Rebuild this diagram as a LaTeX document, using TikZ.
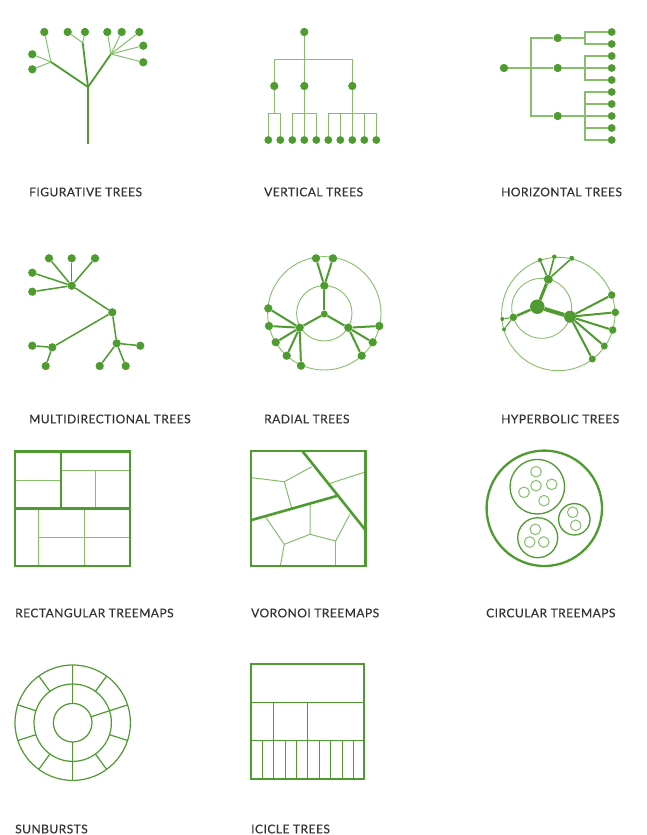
\documentclass[tikz,border=0pt]{standalone}
\usepackage{fontspec}
\usepackage{tikz}
\usetikzlibrary{calc}
\newfontfamily\tvFont[LetterSpace=4, FakeBold=0.4]{Lato}
\definecolor{tvGreen}{HTML}{4E9B30}
\definecolor{tvLight}{HTML}{86BF6C}
\definecolor{tvText}{HTML}{333333}
\tikzset{
    tvDot/.style={circle, fill=tvGreen, draw=none, inner sep=0pt, minimum size=#1},
    tvDot/.default=8.3pt,
    tvEdge/.style={draw=tvGreen, line width=1.5pt},
    tvTwig/.style={draw=tvLight, line width=1pt},
    tvRing/.style={draw=tvLight, line width=0.9pt},
    tvFrame/.style={draw=tvGreen, line width=2.6pt},
    tvCell/.style={draw=tvLight, line width=1pt},
    tvLabel/.style={anchor=west, inner sep=0pt, text=tvText, font=\tvFont\fontsize{12}{13}\selectfont}
}
\begin{document}
\begin{tikzpicture}[x=1pt, y=-1pt]
\useasboundingbox[fill=white] (0,0) rectangle (647,835);

% figurative tree
\coordinate (fRoot) at (88,144);
\coordinate (fFork) at (88,87);
\coordinate (fL) at (51,62);
\coordinate (fM) at (82.7,42.7);
\coordinate (fR) at (111,54);
\node[tvDot] (fa) at (44.3,32) {};
\node[tvDot] (fb) at (67.7,32) {};
\node[tvDot] (fc) at (85,32) {};
\node[tvDot] (fd) at (107.3,32) {};
\node[tvDot] (fe) at (121.7,32) {};
\node[tvDot] (ff) at (139.3,32) {};
\node[tvDot] (fg) at (32.3,54.3) {};
\node[tvDot] (fh) at (32.3,69.3) {};
\node[tvDot] (fi) at (143.3,45.7) {};
\node[tvDot] (fj) at (143.3,62.3) {};
\draw[tvEdge, line width=2.6pt] (fRoot) -- (fFork);
\draw[tvEdge, line width=1.8pt] (fL) -- (fFork) -- (fR);
\draw[tvEdge, line width=1.8pt] (fFork) -- (fM);
\foreach \leaf in {fa,fg,fh} \draw[tvTwig] (fL) -- (\leaf);
\foreach \leaf in {fb,fc} \draw[tvTwig] (fM) -- (\leaf);
\foreach \leaf in {fd,fe,ff,fi,fj} \draw[tvTwig] (fR) -- (\leaf);
\node[tvLabel] (fLab) at (29,192) {FIGURATIVE TREES};

% vertical tree
\node[tvDot] (vRoot) at (304.3,32) {};
\node[tvDot] (vA) at (274.3,86) {};
\node[tvDot] (vB) at (304.3,86) {};
\node[tvDot] (vC) at (352.3,86) {};
\foreach \i in {1,...,10} \node[tvDot=7.8pt] (vL\i) at ({256.3+12*\i},140) {};
\coordinate (vBar) at (304.3,59.3);
\coordinate (vAb) at (274.3,113.3);
\coordinate (vBb) at (304.3,113.3);
\coordinate (vCb) at (352.3,113.3);
\draw[tvTwig, line width=1.3pt] (vRoot) -- (vB);
\draw[tvTwig, line width=1.3pt] (vA) |- (vBar) -| (vC);
\draw[tvTwig, line width=1.3pt] (vA) -- (vAb);
\draw[tvTwig, line width=1.3pt] (vL1) |- (vAb) -| (vL2);
\draw[tvTwig, line width=1.3pt] (vL3) |- (vBb) -| (vL5);
\draw[tvTwig, line width=1.3pt] (vB) -- (vL4);
\draw[tvTwig, line width=1.3pt] (vL6) |- (vCb) -| (vL10);
\draw[tvTwig, line width=1.3pt] (vC) -- (vL8);
\foreach \i in {7,9} \draw[tvTwig, line width=1.3pt] (vL\i) -- (vL\i |- vCb);
\node[tvLabel] (vLab) at (264,192) {VERTICAL TREES};

% horizontal tree
\node[tvDot] (hRoot) at (504,68) {};
\node[tvDot] (hA) at (557.7,38) {};
\node[tvDot] (hB) at (557.7,68) {};
\node[tvDot] (hC) at (557.7,116) {};
\foreach \i in {1,...,10} \node[tvDot=7.8pt] (hL\i) at (611.7,{20+12*\i}) {};
\coordinate (hBar) at (531,68);
\coordinate (hAb) at (585,38);
\coordinate (hBb) at (585,68);
\coordinate (hCb) at (585,116);
\draw[tvTwig, line width=1.3pt] (hRoot) -- (hB);
\draw[tvTwig, line width=1.3pt] (hA) -| (hBar) |- (hC);
\draw[tvTwig, line width=1.3pt] (hA) -- (hAb);
\draw[tvTwig, line width=1.3pt] (hL1) -| (hAb) |- (hL2);
\draw[tvTwig, line width=1.3pt] (hL3) -| (hBb) |- (hL5);
\draw[tvTwig, line width=1.3pt] (hB) -- (hL4);
\draw[tvTwig, line width=1.3pt] (hL6) -| (hCb) |- (hL10);
\draw[tvTwig, line width=1.3pt] (hC) -- (hL8);
\foreach \i in {7,9} \draw[tvTwig, line width=1.3pt] (hL\i) -- (hL\i -| hCb);
\node[tvLabel] (hLab) at (501,192) {HORIZONTAL TREES};

% multidirectional tree
\node[tvDot] (mA) at (71.7,285.7) {};
\node[tvDot] (mB) at (112.3,312.3) {};
\node[tvDot] (mC) at (52.3,347.3) {};
\node[tvDot] (mD) at (116.7,343.3) {};
\node[tvDot] (m1) at (49,258.3) {};
\node[tvDot] (m2) at (71.7,258.3) {};
\node[tvDot] (m3) at (95,258.3) {};
\node[tvDot] (m4) at (32.3,272.7) {};
\node[tvDot] (m5) at (32.3,291.7) {};
\node[tvDot] (m6) at (32.3,345.7) {};
\node[tvDot] (m7) at (45.7,366) {};
\node[tvDot] (m8) at (140.3,345.7) {};
\node[tvDot] (m9) at (99.7,366) {};
\node[tvDot] (m10) at (125.7,366) {};
\foreach \leaf in {m1,m2,m3,m4,m5,mB} \draw[tvEdge] (mA) -- (\leaf);
\foreach \leaf in {mC,mD} \draw[tvEdge] (mB) -- (\leaf);
\foreach \leaf in {m6,m7} \draw[tvEdge] (mC) -- (\leaf);
\foreach \leaf in {m8,m9,m10} \draw[tvEdge] (mD) -- (\leaf);
\node[tvLabel] (mLab) at (29,419) {MULTIDIRECTIONAL TREES};

% radial tree
\coordinate (rO) at (324.3,313.3);
\draw[tvRing] (rO) circle (56.7);
\draw[tvRing] (rO) circle (27.7);
\node[tvDot=7pt] (rHub) at (324.3,314) {};
\node[tvDot] (rT) at (324.3,285.7) {};
\node[tvDot] (rL) at (299.7,327.7) {};
\node[tvDot] (rR) at (348.3,327.7) {};
\node[tvDot] (r1) at (316,258.3) {};
\node[tvDot] (r2) at (333,258.3) {};
\node[tvDot] (r3) at (268.3,308.3) {};
\node[tvDot] (r4) at (269,326) {};
\node[tvDot] (r5) at (275.7,342.3) {};
\node[tvDot] (r6) at (286.7,355.7) {};
\node[tvDot] (r7) at (301,365.7) {};
\node[tvDot] (r8) at (379.3,326) {};
\node[tvDot] (r9) at (372.7,342.3) {};
\node[tvDot] (r10) at (361.7,355.7) {};
\foreach \leaf in {rT,rL,rR} \draw[tvEdge, line width=2pt] (rHub) -- (\leaf);
\foreach \leaf in {r1,r2} \draw[tvEdge, line width=2pt] (rT) -- (\leaf);
\foreach \leaf in {r3,r4,r5,r6,r7} \draw[tvEdge, line width=2pt] (rL) -- (\leaf);
\foreach \leaf in {r8,r9,r10} \draw[tvEdge, line width=2pt] (rR) -- (\leaf);
\node[tvLabel] (rLab) at (264,419) {RADIAL TREES};

% hyperbolic tree
\draw[tvRing] (558.3,314) circle (56.7);
\draw[tvRing] (541.7,308.3) circle (30);
\node[tvDot=14.5pt] (yHub) at (537.3,306.7) {};
\node[tvDot=12pt] (yR) at (570,316.7) {};
\node[tvDot=9pt] (yT) at (548.3,279.3) {};
\node[tvDot=7.5pt] (yL) at (513.3,317.3) {};
\node[tvDot=4pt] (y1) at (502.3,319) {};
\node[tvDot=4pt] (y2) at (504,329.3) {};
\node[tvDot=4.5pt] (y3) at (540,260) {};
\node[tvDot=4.5pt] (y4) at (554.3,256.7) {};
\node[tvDot=5pt] (y5) at (571.7,258.3) {};
\node[tvDot=7.5pt] (y6) at (611.7,295) {};
\node[tvDot=7.5pt] (y7) at (615.3,312.3) {};
\node[tvDot=7.5pt] (y8) at (612.7,330) {};
\node[tvDot=7pt] (y9) at (604.3,346) {};
\node[tvDot=7pt] (y10) at (592.3,359) {};
\draw[tvEdge, line width=4pt] (yHub) -- (yR);
\draw[tvEdge, line width=3pt] (yHub) -- (yT);
\draw[tvEdge, line width=2.5pt] (yHub) -- (yL);
\foreach \leaf in {y1,y2} \draw[tvEdge, line width=1pt] (yL) -- (\leaf);
\foreach \leaf in {y3,y4,y5} \draw[tvEdge, line width=1.6pt] (yT) -- (\leaf);
\foreach \leaf in {y6,y7,y8,y9,y10} \draw[tvEdge, line width=2pt] (yR) -- (\leaf);
\node[tvLabel] (yLab) at (501,419) {HYPERBOLIC TREES};

% rectangular treemap
\draw[tvCell] (15,480) -- (61,480);
\draw[tvCell] (61,470) -- (130,470);
\draw[tvCell] (95.7,470) -- (95.7,508.3);
\draw[tvCell] (38.3,508.3) -- (38.3,566);
\draw[tvCell] (84,508.3) -- (84,566);
\draw[tvCell] (38.3,537.3) -- (130,537.3);
\draw[tvFrame] (61,451.7) -- (61,508.3);
\draw[tvFrame] (15,508.3) -- (130,508.3);
\draw[tvFrame] (15,451.7) rectangle (130,566);
\node[tvLabel] (tLab) at (15,613) {RECTANGULAR TREEMAPS};

% voronoi treemap
\draw[tvCell] (251.7,477.7) -- (284.3,481.7) -- (311.7,466.7);
\draw[tvCell] (284.3,481.7) -- (291.7,508.3);
\draw[tvCell] (330,483.3) -- (364.3,472.3);
\draw[tvCell] (265.7,517.3) -- (284.3,544.3) -- (280.3,566);
\draw[tvCell] (284.3,544.3) -- (310,534.3) -- (310,504);
\draw[tvCell] (310,534.3) -- (335.7,541) -- (350,514);
\draw[tvCell] (335.7,541) -- (335.7,566);
\draw[tvFrame] (302.3,451) -- (365,529.5);
\draw[tvFrame] (251.7,520) -- (336.7,496);
\draw[tvFrame] (251,451) rectangle (365.7,566);
\node[tvLabel] (oLab) at (251,613) {VORONOI TREEMAPS};

% circular treemap
\draw[tvFrame, line width=2.3pt] (544.3,508.3) circle (57.7);
\draw[tvEdge, line width=1.3pt] (537.3,486.7) circle (27.3);
\draw[tvEdge, line width=1.3pt] (574.3,519.3) circle (15.7);
\draw[tvEdge, line width=1.3pt] (537.7,537.7) circle (20);
\foreach \cx/\cy in {536/471.7, 536/485.7, 551.7/484.3, 524/492.3, 544/500.7, 572.7/512.3, 575.7/525.3, 535.3/529.3, 529.7/542, 543.7/542}
    \draw[tvCell] (\cx,\cy) circle (5.3);
\node[tvLabel] (cLab) at (486,613) {CIRCULAR TREEMAPS};

% sunburst
\coordinate (sO) at (72.7,722.7);
\draw[tvEdge, line width=1.2pt] (sO) circle (57.7);
\draw[tvEdge, line width=1.2pt] (sO) circle (38.7);
\draw[tvEdge, line width=1.2pt] (sO) circle (19.3);
\foreach \a in {54,126,162,198,234,306,342}
    \draw[tvEdge, line width=1.2pt] ($(sO)+(\a:38.7 and -38.7)$) -- ($(sO)+(\a:57.7 and -57.7)$);
\foreach \a in {18,90,270}
    \draw[tvEdge, line width=1.2pt] ($(sO)+(\a:19.3 and -19.3)$) -- ($(sO)+(\a:57.7 and -57.7)$);
\node[tvLabel] (sLab) at (15,829) {SUNBURSTS};

% icicle tree
\draw[tvEdge, line width=1.5pt] (250.7,702.7) -- (364.3,702.7);
\draw[tvEdge, line width=1.5pt] (250.7,740.7) -- (364.3,740.7);
\foreach \x in {273.3,307.7} \draw[tvEdge, line width=1.5pt] (\x,702.7) -- (\x,740.7);
\foreach \x in {262.3,273.3,285,296.7,307.7,319.3,330.7,342,353.3}
    \draw[tvEdge, line width=1pt] (\x,740.7) -- (\x,778.7);
\draw[tvEdge, line width=1.8pt] (250.7,664.3) rectangle (364.3,778.7);
\node[tvLabel] (iLab) at (251,829) {ICICLE TREES};
\end{tikzpicture}
\end{document}
